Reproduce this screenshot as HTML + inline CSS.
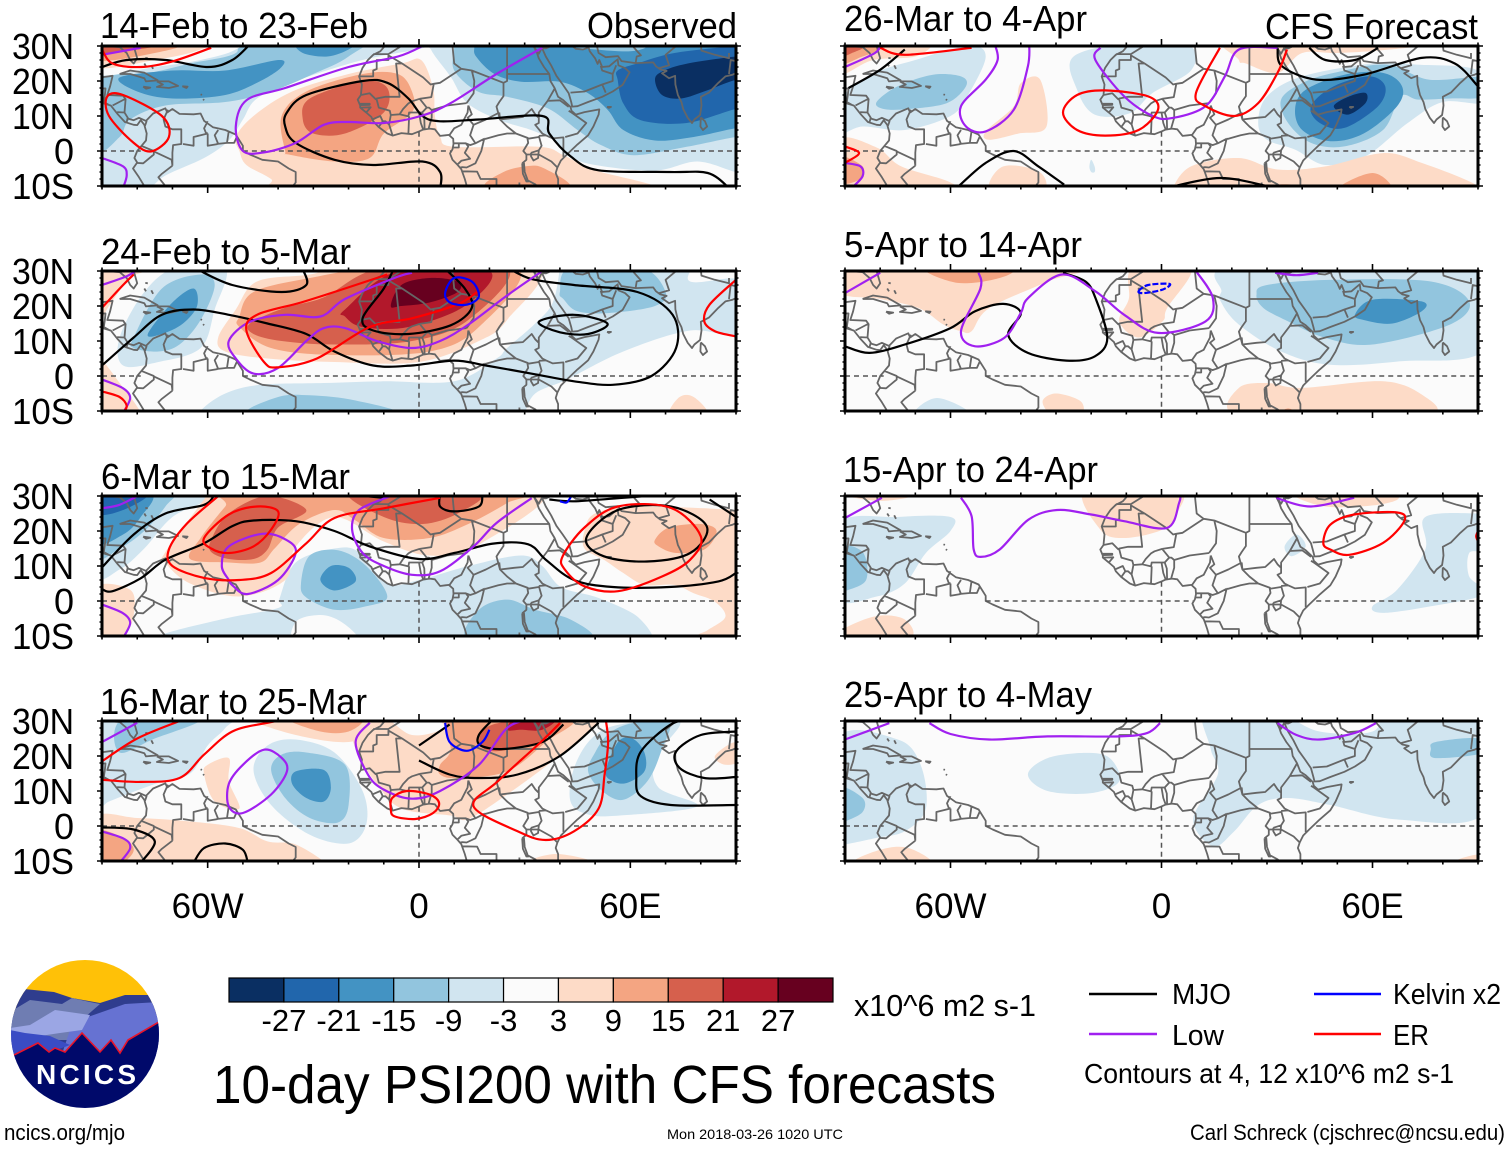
<!DOCTYPE html>
<html lang="en">
<head>
<meta charset="utf-8">
<title>10-day PSI200 with CFS forecasts</title>
<style>
html,body{margin:0;padding:0;background:#fff;}
svg{display:block;}
text{font-family:"Liberation Sans",sans-serif;fill:#000;}
</style>
</head>
<body>
<svg id="chart" xmlns="http://www.w3.org/2000/svg" width="1510" height="1149" viewBox="0 0 1510 1149">
  <rect width="1510" height="1149" fill="#fff"/>
  <g id="panels"></g>
  <g id="colorbar"></g>
  <text x="854" y="1016" font-size="31" textLength="182" lengthAdjust="spacingAndGlyphs">x10^6 m2 s-1</text>
  <text x="213" y="1103" font-size="54" textLength="783" lengthAdjust="spacingAndGlyphs">10-day PSI200 with CFS forecasts</text>

  <g>
    <line x1="1089" x2="1157" y1="994" y2="994" stroke="#000" stroke-width="2.4"/>
    <text x="1172" y="1004" font-size="29" textLength="59" lengthAdjust="spacingAndGlyphs">MJO</text>
    <line x1="1089" x2="1157" y1="1034" y2="1034" stroke="#a020f0" stroke-width="2.4"/>
    <text x="1172" y="1045" font-size="29" textLength="52" lengthAdjust="spacingAndGlyphs">Low</text>
    <line x1="1314" x2="1381" y1="994" y2="994" stroke="#0000ff" stroke-width="2.4"/>
    <text x="1393" y="1004" font-size="29" textLength="108" lengthAdjust="spacingAndGlyphs">Kelvin x2</text>
    <line x1="1314" x2="1381" y1="1034" y2="1034" stroke="#ff0000" stroke-width="2.4"/>
    <text x="1393" y="1045" font-size="29" textLength="36" lengthAdjust="spacingAndGlyphs">ER</text>
    <text x="1084" y="1083" font-size="28" textLength="370" lengthAdjust="spacingAndGlyphs">Contours at 4, 12 x10^6 m2 s-1</text>
  </g>

  <text x="4" y="1140" font-size="22" textLength="121" lengthAdjust="spacingAndGlyphs">ncics.org/mjo</text>
  <text x="667" y="1139" font-size="14" textLength="176" lengthAdjust="spacingAndGlyphs">Mon 2018-03-26 1020 UTC</text>
  <text x="1190" y="1140" font-size="22" textLength="315" lengthAdjust="spacingAndGlyphs">Carl Schreck (cjschrec@ncsu.edu)</text>

  <g>
    <clipPath id="logoClip"><circle cx="85" cy="1034" r="74"/></clipPath>
    <g clip-path="url(#logoClip)">
      <rect x="0" y="955" width="170" height="60" fill="#ffc107"/>
      <polygon points="10,1000 24,989 54,992 72,998 100,1003 125,995 149,995 165,1010 165,1060 10,1060" fill="#2f3d8e"/>
      <polygon points="10,1012 30,1000 62,1004 72,998 90,1002 100,1004 84,1018 84,1040 10,1040" fill="#6f7db2"/>
      <polygon points="85,1018 125,1004 160,1002 165,1060 60,1060 70,1030" fill="#6672d2"/>
      <polygon points="10,1028 30,1025 55,1010 90,1015 82,1030 60,1033 40,1036 10,1040" fill="#9ba6e4"/>
      <polygon points="10,1030 25,1033 50,1036 70,1045 40,1056 10,1060" fill="#3a4cc4"/>
      <polygon points="10,1056 14,1055 38,1043 49,1052 55,1048 65,1052 82,1033 100,1052 111,1040 120,1053 128,1040 159,1022 165,1018 165,1115 5,1115" fill="#00096a" stroke="#e8142a" stroke-width="1.6"/>
    </g>
    <text x="86" y="1084" font-size="28" font-weight="bold" text-anchor="middle" textLength="100" lengthAdjust="spacing" style="fill:#fff">NCICS</text>
  </g>
</svg>

<script>
/* ---------- axis ticks and labels ---------- */
const latTickLabels = [[30,'30N'],[20,'20N'],[10,'10N'],[0,'0'],[-10,'10S']];
const lonTickLabels = [[-60,'60W'],[0,'0'],[60,'60E']];
const periodTitles = ['14-Feb to 23-Feb','24-Feb to 5-Mar','6-Mar to 15-Mar','16-Mar to 25-Mar','26-Mar to 4-Apr','5-Apr to 14-Apr','15-Apr to 24-Apr','25-Apr to 4-May'];
const levels = [-27,-21,-15,-9,-3,3,9,15,21,27];
const levelColors = ['#0a2f62','#2166ac','#4393c3','#92c5de','#d1e5f0','#fbfbfb','#fddbc7','#f4a582','#d6604d','#b2182b','#67001f'];

/* ---------- filled PSI200 anomaly regions: [value, [[lon,lat],...]] painted in order ---------- */
const fills0 = [
 [-6,[[-92,-12],[-79,-12],[-72,-7],[-61,-2],[-54,3],[-50,9],[-46,15],[-35,20],[-16,26],[3,30],[3,34],[-92,34]]],
 [-12,[[-92,0],[-85,4],[-82,9],[-72,13],[-55,14],[-42,17],[-30,22],[-20,27],[-14,34],[-50,34],[-52,28],[-65,25],[-78,22],[-92,20]]],
 [-18,[[-85,21],[-70,23],[-55,23],[-40,26],[-39,24],[-45,20],[-55,16],[-70,15],[-80,17]]],
 [-18,[[-34,31],[-33,28],[-26,27],[-20,29],[-19,31]]],
 [0,[[-92,22],[-75,24],[-62,26],[-52,29],[-48,34],[-92,34]]],
 [6,[[-92,24],[-75,26],[-62,29],[-55,34],[-92,34]]],
 [12,[[-92,26],[-75,28],[-68,31],[-92,34]]],
 [18,[[-92,28],[-80,29],[-72,31],[-92,33]]],
 [24,[[-85,30],[-72,30],[-72,33],[-85,33]]],
 [-6,[[3.4,29],[3,34],[95,34],[95,-6],[90,-6],[79,-3],[67,-5.6],[50,-4],[42,-1.2],[38.4,3],[31.8,6],[23,8.8],[13.8,13.6],[9,21.2]]],
 [-12,[[10,34],[10,29.3],[10,23],[16.7,17],[25,15.5],[36.5,12.2],[45,6],[51.7,1.7],[61,-1.2],[76,1.2],[90,4],[95,4],[95,34]]],
 [-18,[[15.7,34],[15.7,30],[16.2,27],[21.4,22],[29,19.8],[40,19.8],[48,16.5],[53.6,11.7],[58,6],[67,3],[78,4],[90,6.5],[95,6.5],[95,34]]],
 [-12,[[37,31],[41,30],[50,29],[60,28.5],[65,30],[65,33],[37,33]]],
 [-24,[[56.4,20.3],[56.4,23],[62,25],[72.5,28],[90,30],[95,30],[95,12],[90,12],[76,8],[63,8.8],[58,13.6]]],
 [-30,[[67,20.3],[69,22.7],[76.3,25],[90,27],[95,27],[95,20],[90,20.3],[82,17.4],[74.4,15],[69,16]]],
 [6,[[-51,0],[-52,4],[-47,10],[-36,17],[-20,22],[-5,25],[0.6,26],[4,18],[4.5,10],[6,4],[10,1.2],[34,1.2],[41,-1.2],[50,-5.5],[67,-10],[70,-14],[-35,-14],[-42,-8],[-49,-4]]],
 [12,[[-38,0],[-39,10],[-32,17],[-16,22],[-6,22],[-2,17],[-2,11],[-10,5],[-14,-2],[-24,-3],[-37,-1]]],
 [18,[[-33,9],[-31,15],[-16,20],[-9,18],[-10,11],[-21,5],[-30,5]]],
 [12,[[18.6,-10.5],[24,-6],[31,-4.3],[35.6,-5],[43,-10.5],[30,-14]]]
];
const fills1 = [
 [-6,[[-85,11],[-78,24],[-69,31],[-55,31],[-58,19],[-62,8],[-74,4],[-84,3]]],
 [-12,[[-81,11],[-73,25],[-62,29],[-58,26],[-62,16],[-68,9],[-74,7],[-81,8]]],
 [-18,[[-77,12],[-70,21],[-64,25],[-63,20],[-67,15],[-73,12]]],
 [-6,[[-62,-14],[-62,-10],[-55,-5],[-45,-2.5],[-27,-2],[-10,-1.5],[10,-1.5],[22,5],[25,8],[33,15],[38,21],[40,31],[40,34],[75,34],[77,27],[92,27],[92,12],[77,13],[58,7],[42,-1],[33,-5],[30,-11],[30,-14]]],
 [-12,[[40,24],[43,31],[63,31],[70,24],[67,20],[54,18],[45,18.5],[41,22]]],
 [-12,[[-49,-11],[-40,-6],[-31,-5.5],[-18,-7],[-6,-11],[-30,-14]]],
 [6,[[-92,4.5],[-90,4.5],[-85,-2],[-79,-10.5],[-80,-14],[-92,-14]]],
 [6,[[-92,14],[-88,20],[-82,28],[-76,31],[-92,33]]],
 [6,[[71,-11],[74,-6],[78,-6],[82,-11],[76,-14]]],
 [6,[[-57,11],[-52,19],[-46,27],[-31,29],[-16,32],[33,32],[25,16],[17,10],[0,4],[-24,4],[-43,5],[-55,7]]],
 [12,[[-51,17],[-47,24],[-31,28],[-10,31],[28,31],[17,14],[3,7],[-24,6],[-42,8],[-51,14]]],
 [18,[[-48,15],[-38,19.5],[-27,22.5],[-10,31],[25,31],[14,16],[-2,10],[-24,9],[-39,10],[-47,12]]],
 [24,[[-21,19],[-6,30],[20,30],[13,20],[-3,14],[-16,14],[-21,17]]],
 [30,[[-8,20],[-5,26],[3,28],[11,27],[11,24],[3,21],[-5,20]]]
];
const fills2 = [
 [-6,[[-92,8],[-85,9],[-78,15],[-70,24],[-60,29],[-58,34],[-92,34]]],
 [-12,[[-92,13],[-85,15],[-78,20],[-72,27],[-68,34],[-92,34]]],
 [-18,[[-92,17],[-84,19],[-79,24],[-76,31],[-92,34]]],
 [-24,[[-92,25],[-84,26],[-77,31],[-92,33]]],
 [-6,[[-75,-14],[-74,-10],[-55,-5],[-40,-2],[-39.5,1],[-35,11],[-24,15],[-17,14],[-9,5],[0,6],[14,10],[29,13],[35,10],[40.3,4],[50,1.2],[59,-2.6],[63,-5.4],[66.3,-10],[66,-14]]],
 [0,[[-35,-13],[-35,-6],[-28,-4],[-22,-6],[-17,-11],[-20,-14]]],
 [-12,[[-33.5,5],[-31,13],[-23,14.5],[-15,10],[-9,1.3],[-15,-1.5],[-24,-2.5],[-32,1]]],
 [-18,[[-28,6],[-25,10],[-20,9.5],[-18,5.6],[-24,3]]],
 [-12,[[13.5,-11],[17,-2.5],[25,0.4],[33,-2.5],[43,-5.3],[49,-11],[30,-14]]],
 [6,[[-92,3.7],[-82,3.2],[-81,-4],[-84,-10],[-92,-11]]],
 [6,[[-72,14],[-61,29],[-57,34],[33,34],[17,16],[3,13],[-10,17],[-24,24],[-35,15.5],[-38,6],[-51,1.3],[-65,5],[-72,11]]],
 [6,[[47,20],[50,25],[62,27],[92,26],[95,26],[95,-14],[79,-14],[79,-10],[82,-8.3],[87,-4.5],[84,-0.2],[78,2.2],[72.5,4.6],[64,4.6],[58,8],[52.6,11.7],[47,15]]],
 [12,[[-65,12],[-62,18],[-55,27],[-50,32],[30,32],[25,28],[14,22],[3,18],[-10,18],[-18,23],[-24,26],[-34,22],[-41,15],[-45,11],[-54,11]]],
 [18,[[-59,17.5],[-54,25],[-43,30],[-32,26],[-40,21],[-43,14.7],[-47,12],[-54,12],[-59,14]]],
 [18,[[-20,31],[-10,24],[1,22],[11,25],[18,31],[0,34]]],
 [12,[[67,17.5],[71,21],[80,22],[84.5,20],[81,14.7],[73,13.7],[68,15.6]]]
];
const fills3 = [
 [-6,[[-92,5],[-88,7],[-75,12],[-65,15],[-60,23],[-55,28],[-52,34],[-92,34]]],
 [-12,[[-85,21],[-85,30],[-70,34],[-60,34],[-62,30],[-75,25]]],
 [-6,[[-47,16],[-43,23],[-35,24.7],[-24,21],[-16,10],[-15,0.4],[-20,-5],[-31,-2.5],[-42,6]]],
 [-12,[[-42,16],[-39,20.4],[-32,21],[-21,17.5],[-20,6],[-23,1],[-31,2.3],[-38,8]]],
 [-18,[[-36,12],[-35,15.6],[-27,16],[-25,11],[-27,7],[-32,8]]],
 [-6,[[43,7],[44,16.5],[49,25],[57,29],[74,30],[67,19.5],[68,11],[79,5.6],[57,3],[48,3.3]]],
 [-12,[[48,15.6],[50,21],[54,26.5],[60.6,29.4],[71,30],[69,22],[65,13],[58,7.5],[52,10]]],
 [-18,[[53,15.6],[56.5,24],[60.6,25],[64,21],[64,15.6],[59,12.3],[55,12.8]]],
 [6,[[-92,2.3],[-80,2.3],[-65,1.3],[-51,-0.6],[-43,-4.4],[-35,-5.3],[-26,-11],[-26,-14],[-92,-14]]],
 [12,[[-92,-1.5],[-84,-3.4],[-81,-7],[-85,-11],[-92,-12]]],
 [6,[[-60,17.5],[-54,19.4],[-54,12.8],[-51,5],[-58,7],[-61,14.7]]],
 [6,[[-19,31],[-18,22],[-12,12],[-5,5],[9,3],[14,2],[25,9],[39,19.4],[50,29],[50,33],[8,33],[7,28],[-2,26],[-10,31]]],
 [6,[[-50,31],[-35,26],[-20,24],[-13,28],[-13,33],[-50,33]]],
 [12,[[-38,31],[-28,27],[-20,27],[-16,31],[-28,33]]],
 [6,[[30,-11],[39,-8],[51,-11],[40,-14]]],
 [6,[[84,20],[90,24],[92,19],[87,17.5]]],
 [12,[[6,17.5],[9,21.5],[10,31],[43,31],[36,24],[25,15.6],[11,13.7],[6,14.7]]],
 [18,[[17,24],[21,29],[40,31],[36,25],[26,22],[20,21.5]]],
 [24,[[25,27.5],[28,31],[39,31],[35,27.5],[29,27.5]]]
];
const fills4 = [
 [-6,[[-92,5],[-92,14],[-82,22],[-70,26],[-55,30],[-50,27],[-55,16],[-60,10],[-73,6],[-85,7]]],
 [-12,[[-81,14],[-75,18.5],[-65,21.8],[-57,21.3],[-55.6,18.5],[-61,13.7],[-72,12],[-79,12]]],
 [-6,[[-25,27],[-8,31],[8,30],[8.4,23],[-2.5,16.6],[-9,10.8],[-19,10.4],[-24,17.5]]],
 [-6,[[-20,-2.5],[-19,-4.5],[-19,-6],[-20,-6],[-20.5,-4.5]]],
 [-6,[[27.5,8],[30,15.6],[40,21.3],[60,25],[72.5,24.7],[90,23],[92,14],[80,14],[70,8],[58,-1.5],[46.6,-4],[38,0.4],[30,3.2]]],
 [-12,[[34,14.7],[40,19.4],[49,22.3],[64,24.7],[76,20.4],[92,21],[92,15.6],[82,15],[73,14.7],[68,15.6],[63,6],[52,1.3],[42.5,2.3],[36,8]]],
 [-18,[[38,12],[41,17.5],[52,21.8],[63,22.3],[68.4,18.5],[67,12.8],[57.5,5],[48,2.8],[40,6]]],
 [-24,[[42.5,12.8],[49,18.5],[59,21.3],[63.6,18.5],[61.6,12.8],[52,6.6],[45,8]]],
 [-30,[[49,12.8],[53.4,15.6],[58,16.6],[58,13.7],[53,10.4]]],
 [6,[[-92,22],[-82,26],[-70,27],[-65,31],[-70,34],[-92,34]]],
 [12,[[-92,25],[-85,27],[-80,29],[-78,31],[-92,34]]],
 [18,[[-92,27],[-88,28],[-84,30.5],[-92,33]]],
 [6,[[-50,5.6],[-42,12.8],[-40,19.4],[-34.5,20.4],[-32.7,7],[-40.6,5],[-49,3.2]]],
 [6,[[21,34],[22,26],[24,25],[33,22.3],[40,28],[50,28],[65,29],[90,32],[90,34]]],
 [6,[[3,-11],[8.4,-4.4],[22,-2],[33,-5.3],[46.6,-4.4],[63,-0.6],[74,-3.4],[90,-10],[90,-14],[3,-14]]],
 [12,[[50,-11],[60,-6.3],[65.6,-11],[58,-14]]],
 [12,[[21,-11],[35,-9.5],[42,-11],[30,-13]]],
 [6,[[-92,3],[-81,1],[-74,-4.4],[-60,-9],[-55,-14],[-92,-14]]],
 [6,[[-49,-11],[-45,-4.4],[-35,-5.8],[-33,-11],[-40,-14]]],
 [12,[[-92,-1.5],[-85,-4.4],[-86,-8.2],[-92,-9]]]
];
const fills5 = [
 [6,[[-92,24],[-80,22],[-69,19.4],[-62,14.7],[-57,12.8],[-54,12.8],[-49,19.4],[-32.4,27],[-22,32],[-92,34]]],
 [12,[[-68,31],[-58,26.6],[-46,28],[-42,31],[-55,33]]],
 [6,[[-12,15.6],[-9.3,22],[-8,31],[8.4,31],[1.6,19.4],[0.3,15.6],[-6.5,11]]],
 [6,[[-33.8,-7.2],[-30,-5],[-23,-7.2],[-23,-11],[-31,-11]]],
 [6,[[20.7,-11],[22,-3.4],[30,-2],[40,-3.4],[63,-1.5],[74,-5.3],[77,-11],[50,-14]]],
 [12,[[33,-11],[36,-9.3],[39,-11],[36,-12]]],
 [-6,[[-70.6,-11],[-63.8,-6.3],[-54,-11],[-63,-13]]],
 [-6,[[17,24],[22,32],[92,32],[92,7.6],[68,4.2],[48,3.2],[34,7],[22,14.7],[17,21]]],
 [-12,[[27,23.2],[30,26],[49,27.5],[76.6,27],[87.5,21.3],[82,14.7],[60,9],[46.6,10.9],[36,15.6],[29,19.4]]],
 [-18,[[55,17.5],[60,21.8],[74,21.3],[74,18.5],[65.7,15],[57.5,16]]]
];
const fills6 = [
 [-6,[[-92,1],[-92,22],[-75,24],[-60,24],[-60,20],[-67,13.7],[-73,5],[-81,1.3]]],
 [-12,[[-92,15],[-85,14],[-84,6],[-90,2.8],[-92,2]]],
 [6,[[-92,-9],[-81.5,-4.4],[-73,-5.3],[-72,-11],[-92,-13]]],
 [6,[[-92,31],[-72,30],[-80,28.6],[-90,30]]],
 [6,[[-21.5,32],[-17.4,20.4],[-10.6,18],[0.3,20.4],[4.4,25],[4.4,32]]],
 [6,[[37,31],[46.6,27],[61.6,27.5],[67,30],[50,33]]],
 [-6,[[35,15.6],[38.4,19],[41,15.6],[37,12.8]]],
 [-6,[[60,-1.5],[67,3.2],[75,14.7],[75,24],[90,25],[92,24],[92,15],[87.5,13.7],[87.5,7],[92,2],[76.6,-1.5],[63,-3.4]]]
];
const fills7 = [
 [-6,[[-92,-5.3],[-92,25],[-75,24.7],[-68.5,17.5],[-67,5],[-73,-1.5],[-81,-3.4],[-90,-5.3]]],
 [-12,[[-92,11],[-85,8],[-85,4],[-90,1.3],[-92,1]]],
 [-6,[[-38,14.7],[-32.4,19.4],[-21.5,20.9],[-14.7,19.4],[-12,12.8],[-20,9.4],[-32.4,10]]],
 [-6,[[12.5,34],[14,22],[16,14.7],[9,2],[14.7,-5.8],[20.7,-1.5],[27.5,6],[35.7,8],[48,6],[68,1.8],[92,4],[92,34],[66,34],[60,27],[45,27],[33,32]]],
 [-12,[[76.6,22],[78,24],[90,25],[92,21],[78,19.4]]],
 [6,[[-88,-11],[-80,-6.8],[-72,-6.3],[-65,-11],[-75,-14]]],
 [6,[[82,-11],[91,-8.2],[92,-14]]]
];
const panelFills = [fills0,fills1,fills2,fills3,fills4,fills5,fills6,fills7];

/* ---------- contour lines per panel; a line ending on its first point is closed ---------- */
const mjoLines = [
 [[[-90,24],[-83,26],[-72,26],[-60,24],[-53,26],[-48,30.5]],
  [[6,-11],[6,-6],[1,-3],[-13,-4],[-24,-2.5],[-35,2.3],[-38,7],[-37.5,11],[-32,16],[-16,20],[-9,19.5],[-3,15],[1,10],[6,8.5],[17,9],[35,10],[37,5],[43,-1.5],[51,-5.5],[71,-6],[82,-6.3],[88,-10.5]]],
 [[[-63,30.5],[-53,26],[-39,24],[-32,26],[-33,30.5]],
  [[-90,3],[-81,11],[-73,17.5],[-64,19],[-54,17.5],[-43,15],[-32,12],[-24,7],[-13,3],[-2,3],[10,4.4],[19,3],[33,0.5],[44,-1.5],[55,-2.5],[66,0],[73,8],[72,17.5],[62,24],[44,26],[32,27.7],[25,31]],
  [[-7,31],[-10,25],[-16,16.5],[-13,13],[-3,12],[9,14.5],[15,19.5],[13,25],[7,31]],
  [[34,15.5],[44,17.5],[53.5,15],[48,12],[40,12.5],[34,15.5]]],
 [[[-90,9.6],[-81,19],[-72,25],[-61,27.5],[-58,30.5]],
  [[-90,3.4],[-87,2.8],[-79,6.5],[-72,11.8],[-61,16.5],[-53,21.4],[-47,23],[-35,22.8],[-24,20],[-14,15.6],[0,12],[10,13.7],[21,16.4],[31,16.2],[36,11.8],[44,6],[55,4],[71,4],[85,5.6],[90,8]],
  [[6,30.5],[6,27],[10,25.6],[17,27],[18,30.5]],
  [[47.5,18],[56.5,26],[71.5,27],[81.7,21.3],[77,13.7],[64.7,11.3],[52.4,12.8],[47.5,18]],
  [[37,29],[44,28.5],[58,29.5],[72,30.5]],
  [[82.5,29],[90,24]],
  [[-21,30.5],[-10,29.5]]],
 [[[0,23],[8.7,29]],
  [[0,18.7],[8.7,14.7],[17,13.7],[28,14.7],[40,20],[51,29.5]],
  [[21,30.5],[17,26],[17.5,23],[24,22],[35,24],[41,29]],
  [[90,6],[71.5,6],[63,8.5],[61.7,13.7],[63,21.3],[71.5,29],[78,30.5]],
  [[90,14],[81,13.7],[74,16.6],[73,21.3],[80,26],[90,27]],
  [[-90,-0.4],[-81,-1],[-75,-4.4],[-79,-10.5]],
  [[-64,-10.5],[-61,-6.3],[-55,-5],[-50,-6.8],[-48.6,-10.5]]],
 [[[-89,18],[-80,23.2],[-73,29]],
  [[-57.6,-10],[-50,-3.4],[-42,0],[-35,-4.4],[-27.7,-9.6]],
  [[1.6,-10.5],[16.6,-7.7],[30,-10]],
  [[33,29.4],[34.3,24.2],[44,20.4],[57.5,21.8],[74,26.6],[83.4,25],[90,18.5]],
  [[42,29.5],[46.6,26],[55,26],[61.6,29.5]]],
 [[[-90,8.5],[-83,6.6],[-73,9],[-60,13.7],[-53,18.5],[-45,20.6],[-40,18],[-43.6,11.8],[-38,6.6],[-27,4.4],[-19,5.6],[-15.4,10.9],[-18.8,22.3],[-21.6,27],[-28,29.5]]],
 [],
 []
];
const lowLines = [
 [[[-90,27.5],[-79,29.5]],
  [[1,30],[-6,27],[-20,24],[-38,18],[-49,14.5],[-52,7],[-50,0],[-44,-0.4],[-35,2.3],[-27,7.5],[-20,8.3],[-10,8],[0.5,10],[9,13.7],[22,22],[35,29.5]],
  [[-90,-2],[-84,-4.4],[-83,-7],[-84,-10.5]]],
 [[[-90,26],[-83,28.5],[-79,31]],
  [[35,30],[25,23],[14,14.7],[6,10],[-2,8],[-12,10],[-21,13.7],[-27,13.7],[-32,10],[-40,2.3],[-47,0.7],[-52,5],[-54,10],[-48,15.5],[-38,17.5],[-28,17],[-21,22],[-7,28],[-2,29.5]],
  [[-90,-1],[-84,-3.5],[-82,-6.3],[-84,-10.5]]],
 [[[-90,26.5],[-85,27.5],[-79,30.5]],
  [[-8,30],[-17,26],[-19,20.4],[-16,13.7],[-10,10],[-2,7.5],[6,8.5],[15.5,15.6],[22,22.3],[32,29.4]],
  [[-54,6],[-56,10],[-54,15.6],[-44.5,19.2],[-37.7,17.5],[-35,13.7],[-40,6],[-48.6,2],[-52.7,4.2],[-54,6]],
  [[-90,-1],[-84,-3.5],[-82,-6.3],[-84,-10.5]]],
 [[[-90,24],[-80,29.5]],
  [[-92,-1],[-84,-3.5],[-82,-6.3],[-85,-10.5]],
  [[-54,12],[-50,17.5],[-44,21.8],[-39,19.5],[-37.5,15.6],[-42,9],[-50,3.7],[-54,5.6],[-54,12]],
  [[-14,29.5],[-18,24],[-14.5,14.7],[-10,10.4],[-2,7.8],[6,10],[17,17.5],[25,28],[32,30.5]]],
 [[[-90,24],[-81.5,28],[-80,30.5]],
  [[-47.4,30.5],[-46.6,26],[-50,20.4],[-57,12.8],[-55.6,7],[-50,5.6],[-42,11.8],[-38,24.2],[-37.6,30.5]],
  [[-17.4,29.5],[-18.8,26],[-10.6,15.6],[-2.5,10],[3,9.4],[12.5,12.8],[18,21.3],[22,29],[33,29.5]],
  [[-90,-3.4],[-85.6,-4.4],[-85,-7.2],[-88,-10.5]]],
 [[[-90,23.7],[-80,29.5]],
  [[-52,29.5],[-51.5,25],[-57,12.8],[-53,8.5],[-44.7,10.9],[-40,18],[-37.9,22.3],[-28.3,29],[-18.8,24.2],[-10.6,17.5],[-1,12.3],[12.5,15.6],[14.6,22.3],[9.8,30]],
  [[32.3,29.5],[38.4,28.8],[44.5,29.5]]],
 [[[-90,23.7],[-79.5,29.5]],
  [[-57,29.5],[-54,24.2],[-53.4,14.7],[-51.4,12.6],[-46,14.7],[-37.9,23.2],[-29.7,26],[-20,24.7],[-10.6,22.8],[1.6,20.9],[5,28],[5.4,30.5]],
  [[32.7,29.4],[42.5,27],[54.8,29.5]]],
 [[[-90,24.7],[-77.4,29.4]],
  [[-66,29.4],[-60,26.3],[-49,24.7],[-32.4,25.6],[-12,25.6],[-4,26.6],[-0.4,29.4]],
  [[33,29.4],[38.4,26],[45,24.7],[55,26.6],[61,29.4]]]
];
const erLines = [
 [[[-90,29],[-87,25],[-79,24],[-70,25.6],[-59,29.5]],
  [[-88.5,15.6],[-84,16],[-73,10],[-71,4],[-76,-0.1],[-81,2.3],[-88,10],[-88.5,15.6]]],
 [[[-90,19.5],[-84,26],[-81,29]],
  [[-9,29],[-21,25],[-33.5,21],[-46,17.5],[-49,13],[-44,4],[-40,2.5],[-29,5],[-14,14],[-2,16.5],[11,20.5],[16.5,24]],
  [[-90,-4.4],[-85,-6],[-83,-8.5],[-84,-10.5]],
  [[90,27.5],[82.5,20.4],[81,15.6],[84,12.8],[90,11.3]]],
 [[[-61,18],[-54,24.7],[-46,27],[-40,25.6],[-42,20.4],[-47,15.6],[-54,13.7],[-59,15],[-61,18]],
  [[-57,30],[-66,22],[-71,14.7],[-70,10],[-61,6.6],[-51,6],[-42,8],[-32,16.5],[-24,23.7],[-10,26.5],[6,29.5]],
  [[40.8,12.8],[47,21],[56.5,27],[71.5,26.6],[80,18.5],[77,11.8],[69,7],[56.5,2.8],[47,4.2],[41.4,9],[40.8,12.8]]],
 [[[-90,13.2],[-79,12.6],[-68,13.7],[-61,20.4],[-53,27],[-43,29.5],[-37,30.5]],
  [[-90,18.5],[-80,25],[-68,30]],
  [[-7.6,8],[-3.5,10],[3,9],[5.7,6.6],[4,3.7],[-1,2],[-7,2.8],[-8,5],[-7.6,8]],
  [[53,30.5],[53.7,24],[52.7,14.7],[51,5],[44,-1.5],[36,-4],[28,-1.5],[15.5,5.6],[22.4,12.8],[34.6,24],[40,29.4]]],
 [[[-80,29.5],[-73,27.5],[-54,29.5]],
  [[-28,11],[-24,16],[-16,17.3],[-3.8,15.6],[-1,11.8],[-6.5,6],[-16,4.4],[-24,6],[-28,11]],
  [[16.6,29.5],[9.8,16.6],[12.5,12.8],[20.7,10],[27.5,13.7],[33,22.3],[35.7,29]],
  [[-90,1.3],[-86,-0.6],[-90,-3.4]]],
 [],
 [[[46,16.6],[48,21.8],[54.8,24.7],[67,25.3],[69,22.8],[63,16.6],[53.4,13.2],[48,14.7],[46,16.6]],
  [[90,20],[89.5,18.5],[90,17]]],
 []
];
const kelvinLines = [
 [],
 [[[7.4,23.7],[10,28],[15,27],[17,22.8],[13.7,20.4],[9,20.9],[7.4,23.7]]],
 [[[40,28.5],[42,28.2],[43.5,30.5]]],
 [[[7.4,29.5],[8.7,24],[13.5,21.5],[18,24],[20,27.5]]],
 [],
 [[[-6.5,24.2],[-3.8,26],[2.3,26.3],[0.3,24.7],[-5,23.7],[-6.5,24.2]]],
 [],
 []
];

/* ---------- coastlines and borders, in lon/lat ---------- */
const coastLines = [
 [[-97,26],[-97,22],[-94,18.2],[-91,18.7],[-90.5,21],[-87,21.5],[-87.7,18.5],[-88.5,16],[-84,15.8],[-83.3,14.8],[-83.6,11],[-82.5,9.2],[-81,8.8],[-79.5,9.5],[-77.5,8.6],[-75.5,10.7],[-72,12.2],[-71.5,11],[-70,12],[-68,10.6],[-64,10.5],[-62,10.7],[-61,8.6],[-58.5,6.8],[-55,6],[-52,4.7],[-50,1.5],[-50,0],[-48,-1],[-44.5,-2.5],[-40,-3],[-37,-5],[-35,-6],[-35,-9],[-37,-11.5]],
 [[-94,16],[-91,14],[-87.5,13],[-85.5,10.5],[-83.5,8.3],[-81,7.5],[-80,7.4],[-79,8.8],[-78,7.5],[-77.3,5],[-77.5,3],[-79,1.2],[-80,0],[-80.8,-2],[-80,-3.3],[-81.2,-5],[-79.5,-7.5],[-78,-10],[-77,-12]],
 [[-92,30],[-89,30],[-85,29.7],[-83,28],[-82,26],[-81,25],[-80,26.5],[-81,30],[-81,32]],
 [[-85,22],[-82,23],[-78,22.4],[-74.2,20.2],[-77.5,19.9],[-78,20.8],[-82,22],[-85,22]],
 [[-74.4,19.9],[-71,19.9],[-68.4,18.6],[-71,18],[-74.4,18.3],[-72.7,19],[-74.4,19.9]],
 [[-78.3,18.4],[-76.3,18.1],[-77.5,17.8],[-78.3,18.4]],
 [[-67.2,18.5],[-65.7,18.4],[-66,18],[-67.2,18.5]],
 [[-78,25],[-77.5,24.2]],[[-76,24.5],[-75.5,23.5]],[[-77.7,26.6],[-77,26.5]],
 [[-62,16.2],[-61.6,16]],[[-61.3,14.8],[-61,14.5]],
 [[-9.7,31],[-9.7,30],[-11,28.5],[-13,27.5],[-14.5,26],[-16,23.8],[-17,21.3],[-16.2,19],[-16.5,16],[-17.4,14.7],[-16.7,13],[-16.7,12.4],[-15,11],[-13.5,9.7],[-13,8.5],[-11.5,6.9],[-9,5],[-7.5,4.4],[-5,5.1],[-2,4.8],[0,5.6],[1.2,6.1],[3,6.4],[4.5,6.2],[6,4.3],[7.5,4.5],[8.5,4.6],[9.7,3.5],[9.8,2],[9.5,0.5],[8.8,-0.7],[9.5,-2.5],[11,-4],[12,-5.2],[12.3,-6],[13,-8],[13.7,-10.5],[13.8,-12]],
 [[32.5,30],[33.5,28],[34,26.5],[35.5,24],[37,22],[37.3,20],[38.5,18],[39.5,15.5],[41,14.5],[43,12.6],[43.3,11.5],[44.5,10.4],[47,11.1],[51.2,11.9],[51,10.4],[49.5,7],[48,4.5],[45,1.9],[42,-1],[40.3,-2.7],[39.3,-4.7],[38.8,-6.3],[39.5,-8],[39.5,-10],[40.5,-11]],
 [[18,30.7],[19.3,30.3],[20,31]],
 [[32.5,30],[34,27.8],[34.9,29.5]],
 [[34.9,29.5],[36,27],[37.5,24.5],[39,21.5],[40.8,19],[42.5,16.5],[43.2,14],[43.5,12.7],[45,12.8],[48,14],[52,15.5],[55,17],[57.8,18.9],[59.8,22.5],[58.5,23.7],[56.6,24.5],[56.4,26.2],[55.5,25.5],[54,24.2],[52,24],[51.6,25],[51.2,26],[50.7,24.9],[50,26.5],[48.5,28.5],[48,30],[49,30.3],[50.5,30],[51,28],[53,26.8],[56.5,27.1],[57.5,25.7],[61.5,25.1],[66.5,25.3],[67.3,24.2],[68.5,23.3],[70.3,22.9],[69,22.2],[71,20.8],[72.7,21.5],[72.8,19],[73.5,16],[74.5,14],[75,12],[76.3,9.5],[77.5,8],[78.2,9],[79.8,10.3],[80.2,13],[80,15.5],[82.3,16.7],[85,19.5],[87,21.3],[89,21.8],[90.5,22.5],[91.5,22.5],[92.3,20.7]],
 [[80,9.6],[81.2,8.5],[81.8,7],[80.6,6],[79.9,7],[80,9.6]],
 [[53.4,12.6],[54.5,12.6],[53.9,12.3],[53.4,12.6]],
 [[31.8,-0.5],[34,0.2],[33.8,-2],[32.5,-2.7],[31.8,-1.5],[31.8,-0.5]],
 [[29.3,-3.5],[29.8,-3.5],[30,-6],[31,-8.7],[30.5,-8.7],[29.5,-6.5],[29.3,-3.5]]
];
const borderLines = [
 [[-13,27.7],[-8.7,27.7],[-5,30],[-1,32]],
 [[-17,21.3],[-13,21.3],[-13,23],[-12,23.4],[-12,26],[-8.7,26],[-8.7,27.3],[-4.8,25],[-6.5,25],[-5.5,15.5],[-9.5,15.5],[-12,15],[-12.3,14.8],[-14,16.5],[-16.5,16]],
 [[-4.8,25],[1.2,21],[3.3,19],[4.2,19.2]],
 [[4.2,19.2],[6,19.5],[12,23.5]],
 [[12,23.5],[10,25],[9.5,30],[9,32]],
 [[4.2,19.2],[3.5,15.4],[0.2,14.9]],
 [[0.2,14.9],[-2,14.2],[-3,13.6],[-4.5,12],[-5.5,10.5]],
 [[-5.5,10.5],[-8,10.3],[-8.3,11.5],[-11.4,12.4],[-12,14.7]],
 [[12,23.5],[15,23],[15.7,20],[15.5,16.5],[13.5,13.7]],
 [[13.5,13.7],[8,13],[3.6,11.7],[2.8,12.4],[2.2,12.4],[0.2,14.9]],
 [[15,23],[24,19.5],[24,15.7],[22.8,14],[22,12.7],[23,9]],
 [[25,31],[25,20],[24,19.5]],
 [[25,22],[36.8,22]],
 [[23,9],[27,9.5],[29.5,9.7],[32,12],[33,10.5],[34,9.5]],
 [[38.6,18],[36.5,14.3],[34,11],[34,8],[33,7.5],[35,5]],
 [[36.5,14.3],[40,14.5],[42.5,12.6]],
 [[42.5,11.5],[43.3,11],[47.5,8],[45,5],[41.5,4]],
 [[41,-1.7],[41,3.9],[38,3.6],[36,4.5],[34,4.3]],
 [[35,5],[36,4.5]],
 [[34,4.3],[34.8,1.5],[34,0.2]],
 [[34,-1],[37.6,-3],[39.3,-4.7]],
 [[34,-1],[30.5,-1]],
 [[30.5,-1],[29.6,0],[31,2.3],[30.8,3.5],[34,4]],
 [[31,3.7],[27.5,5],[25,5],[22.5,4.5],[19,3.5],[18.5,3.5]],
 [[27.5,5],[25,7],[23,9],[22.8,11]],
 [[22.8,11],[19,9],[15.5,7.5]],
 [[15.5,7.5],[14.5,4.5],[16,2.2],[18.5,3.5]],
 [[18.5,3.5],[17.7,0],[16,-3.5],[13.5,-4.7],[12.3,-4.6],[11.5,-4.8]],
 [[14,13],[15,10.5],[13.8,9.5],[15.5,7.5]],
 [[14,13],[13.8,11],[12,7.5],[10,6.5],[8.7,4.6]],
 [[9.8,2.2],[13.3,2.2],[14.5,1.7],[16,2.2]],
 [[13.3,2.2],[14,1.3],[13,-0.5],[14.5,-2.2],[12,-2.8],[11,-3.8]],
 [[9.8,1],[11.3,1],[11.3,2.2]],
 [[12.3,-5.8],[16.5,-5.9],[17.5,-8],[22,-8],[22,-11],[24,-11]],
 [[28.5,-9],[28.5,-12]],
 [[30.7,-8.3],[33,-9.5],[34.5,-11]],
 [[34.7,-11.5],[40.4,-10.5]],
 [[30.5,-1],[30.5,-2.5],[29.3,-3.5]],
 [[2.7,6.3],[3.6,9.5],[3.6,11.7]],
 [[1.6,6.2],[1.5,9.3],[0.9,11],[2.2,12.4]],
 [[1.2,6.1],[0.5,8],[0,11]],
 [[-5.5,10.5],[-3,9.9],[-2.8,11],[0,11],[0.9,11]],
 [[-3,5],[-2.8,9.9]],
 [[-7.5,4.4],[-8.5,7.6],[-8,10.3]],
 [[-11.4,6.9],[-10.3,8.5],[-9.5,8.5],[-8.5,7.6]],
 [[-13,9.1],[-11,10],[-10.3,8.5]],
 [[-16.7,12.4],[-13.7,12.5],[-15,11]],
 [[-16.7,13.5],[-14,13.5],[-14,13.2],[-16.7,13.1]],
 [[48,29.5],[46.5,29],[44.5,29.2],[42,31.2]],
 [[35,29.4],[36,29.3],[37.5,30],[38,31]],
 [[43,16.7],[47,17],[52,19],[55,20],[55,22],[52,23],[51.6,24.3]],
 [[52,19],[53,16.7]],
 [[55,22],[56,24.5]],
 [[61.5,25.1],[61.8,27],[63,27.3],[60.8,29.8],[61.5,31.5]],
 [[68.2,23.7],[71,24.5],[70,27.5],[73,30],[75,32]],
 [[80,30.2],[80.2,28.7],[84,27.5],[88,26.5],[88,28]],
 [[88,22],[88.5,26],[92,25.2],[92.3,21]],
 [[-71.3,11.8],[-72.5,9],[-72,7],[-70,6.2],[-67.5,6.2],[-67.5,2],[-69.8,1.7],[-70,-0.5],[-70,-4.2]],
 [[-78.7,1.4],[-75.3,0],[-75.3,-1],[-78.3,-3.5],[-80.3,-3.4]],
 [[-75.3,-0.1],[-70.2,-2.5],[-70,-4.2]],
 [[-70,-4.2],[-73,-6.5],[-74,-7.5],[-72,-10],[-70.5,-11]],
 [[-77.3,8.6],[-77.8,7.2]],
 [[-60,8.5],[-61,6.5],[-60.5,5.2],[-60,5]],
 [[-60,5],[-64,4],[-64,1.5],[-67,2]],
 [[-60,5],[-60,1.5],[-57,2],[-58,4.5],[-57,6]],
 [[-57.5,2],[-54.5,2.3],[-54,5.8]],
 [[-54.5,2.3],[-52.5,2.3],[-51.7,4.1]],
 [[-92,14.7],[-90.5,16],[-91,17.8],[-89,17.9],[-89.2,15.9]],
 [[-89.2,15.9],[-89.5,14],[-87.7,13]],
 [[-83.2,15],[-87,13]],
 [[-85.7,11.1],[-83.7,11]],
 [[-83,8.3],[-82.7,9.5]]
];
const equatorDashSpans = [[-90,-79],[-50,9],[44,90]];
const primeMeridianSpan = [-10,5.5];

const NS = 'http://www.w3.org/2000/svg';
const colLeft = [102,845];
const colWidth = [634,633];
const rowTop = [46,271,496,721];
const titleBaseline = [[38,264,489,714],[31,257,482,707]];
const titleLength = [[268,250,249,267],[243,238,255,248]];
const titleStart = [[100,101,101,100],[844,844,843,844]];

function colorFor(v){
  let i = 0;
  while(i < levels.length && v >= levels[i]) i++;
  return levelColors[i];
}
function make(tag, parent){
  const e = document.createElementNS(NS, tag);
  parent.appendChild(e);
  return e;
}
function smooth(pts, xf, yf, closed){
  const P = pts.map(p => [xf(p[0]), yf(p[1])]);
  const n = P.length;
  const g = i => closed ? P[(i + n) % n] : P[Math.max(0, Math.min(n - 1, i))];
  let d = 'M' + P[0][0].toFixed(1) + ' ' + P[0][1].toFixed(1);
  const end = closed ? n : n - 1;
  for(let i = 0; i < end; i++){
    const p0 = g(i-1), p1 = g(i), p2 = g(i+1), p3 = g(i+2);
    const c1x = p1[0] + (p2[0]-p0[0])/6, c1y = p1[1] + (p2[1]-p0[1])/6;
    const c2x = p2[0] - (p3[0]-p1[0])/6, c2y = p2[1] - (p3[1]-p1[1])/6;
    d += 'C' + c1x.toFixed(1) + ' ' + c1y.toFixed(1) + ' ' + c2x.toFixed(1) + ' ' + c2y.toFixed(1) + ' ' + p2[0].toFixed(1) + ' ' + p2[1].toFixed(1);
  }
  return d + (closed ? 'Z' : '');
}
function poly(pts, xf, yf){
  return pts.map((p,i) => (i ? 'L' : 'M') + xf(p[0]).toFixed(1) + ' ' + yf(p[1]).toFixed(1)).join('');
}
function isClosed(l){
  const a = l[0], b = l[l.length-1];
  return a[0] === b[0] && a[1] === b[1];
}

const panelsRoot = document.getElementById('panels');
const defs = make('defs', panelsRoot);

function drawContours(group, sets, color, seriesName, xf, yf, dash){
  sets.forEach(line => {
    const closed = isClosed(line);
    const pts = closed ? line.slice(0, -1) : line;
    const p = make('path', group);
    
    
    p.setAttribute('d', smooth(pts, xf, yf, closed));
    p.setAttribute('fill', 'none');
    p.setAttribute('stroke', color);
    p.setAttribute('stroke-width', '2.2');
    if(dash) p.setAttribute('stroke-dasharray', dash);
  });
}

function drawPanel(idx){
  const col = idx < 4 ? 0 : 1;
  const row = idx % 4;
  const left = colLeft[col], width = colWidth[col], top = rowTop[row];
  const xf = lon => left + (lon + 90) * width / 180;
  const yf = lat => top + (30 - lat) * 3.5;

  const g = make('g', panelsRoot);
  
  

  const clip = make('clipPath', defs);
  clip.id = 'clip' + idx;
  const cr = make('rect', clip);
  cr.setAttribute('x', xf(-90)); cr.setAttribute('y', yf(30));
  cr.setAttribute('width', width); cr.setAttribute('height', 140);

  const inner = make('g', g);
  inner.setAttribute('clip-path', 'url(#clip' + idx + ')');

  const bg = make('rect', inner);
  
  
  bg.setAttribute('x', xf(-90)); bg.setAttribute('y', yf(30));
  bg.setAttribute('width', width); bg.setAttribute('height', 140);
  bg.setAttribute('fill', colorFor(0));

  panelFills[idx].forEach(f => {
    const p = make('path', inner);
    
    
    p.setAttribute('d', smooth(f[1], xf, yf, true));
    p.setAttribute('fill', colorFor(f[0]));
  });

  const map = make('path', inner);
  
  
  map.setAttribute('d', coastLines.concat(borderLines).map(l => poly(l, xf, yf)).join(''));
  map.setAttribute('fill', 'none');
  map.setAttribute('stroke', '#666');
  map.setAttribute('stroke-width', '1.8');
  map.setAttribute('stroke-linejoin', 'round');

  equatorDashSpans.forEach(s => {
    const e = make('line', inner);
    
    
    e.setAttribute('x1', xf(s[0])); e.setAttribute('x2', xf(s[1]));
    e.setAttribute('y1', yf(0)); e.setAttribute('y2', yf(0));
    e.setAttribute('stroke', '#555');
    e.setAttribute('stroke-width', '1.5');
    e.setAttribute('stroke-dasharray', '5 4');
  });
  const pm = make('line', inner);
  
  
  pm.setAttribute('x1', xf(0)); pm.setAttribute('x2', xf(0));
  pm.setAttribute('y1', yf(primeMeridianSpan[1])); pm.setAttribute('y2', yf(primeMeridianSpan[0]));
  pm.setAttribute('stroke', '#555');
  pm.setAttribute('stroke-width', '1.5');
  pm.setAttribute('stroke-dasharray', '5 4');

  drawContours(inner, mjoLines[idx], '#000000', 'mjo', xf, yf);
  drawContours(inner, lowLines[idx], '#a020f0', 'low', xf, yf);
  drawContours(inner, erLines[idx], '#ff0000', 'er', xf, yf);
  drawContours(inner, kelvinLines[idx], '#0000ff', 'kelvin', xf, yf, idx === 5 ? '6 2' : null);

  let tickPath = '';
  for(let lon = -90; lon <= 90; lon += 10){
    const len = lon % 60 === 0 ? 7 : 3.5;
    tickPath += 'M' + xf(lon) + ' ' + yf(30) + 'v' + (-len) + 'M' + xf(lon) + ' ' + yf(-10) + 'v' + len;
  }
  for(let lat = -10; lat <= 30; lat += 2){
    const len = lat % 10 === 0 ? 5 : 2.5;
    tickPath += 'M' + xf(-90) + ' ' + yf(lat) + 'h' + (-len) + 'M' + xf(90) + ' ' + yf(lat) + 'h' + len;
  }
  const ticks = make('path', g);
  
  
  ticks.setAttribute('d', tickPath);
  ticks.setAttribute('stroke', '#000');
  ticks.setAttribute('stroke-width', '1.6');
  ticks.setAttribute('fill', 'none');

  const border = make('rect', g);
  
  
  border.setAttribute('x', xf(-90)); border.setAttribute('y', yf(30));
  border.setAttribute('width', width); border.setAttribute('height', 140);
  border.setAttribute('fill', 'none');
  border.setAttribute('stroke', '#000');
  border.setAttribute('stroke-width', '3');

  const title = make('text', g);
  
  
  title.setAttribute('x', titleStart[col][row]);
  title.setAttribute('y', titleBaseline[col][row]);
  title.setAttribute('font-size', '36');
  title.setAttribute('textLength', titleLength[col][row]);
  title.setAttribute('lengthAdjust', 'spacingAndGlyphs');
  title.textContent = periodTitles[idx];

  if(col === 0){
    latTickLabels.forEach(t => {
      const tx = make('text', g);
      
      
      tx.setAttribute('x', 74);
      tx.setAttribute('y', yf(t[0]) + 13);
      tx.setAttribute('font-size', '36');
      tx.setAttribute('text-anchor', 'end');
      if(t[1].length === 3) tx.setAttribute('textLength', 62);
      if(t[1].length === 3) tx.setAttribute('lengthAdjust', 'spacingAndGlyphs');
      tx.textContent = t[1];
    });
  }
  if(row === 3){
    lonTickLabels.forEach(t => {
      const tx = make('text', g);
      
      
      tx.setAttribute('x', xf(t[0]));
      tx.setAttribute('y', 918);
      tx.setAttribute('font-size', '35');
      tx.setAttribute('text-anchor', 'middle');
      tx.textContent = t[1];
    });
  }
}
periodTitles.forEach((_, i) => drawPanel(i));

const obs = make('text', panelsRoot);


obs.setAttribute('x', 587);
obs.setAttribute('y', 38);
obs.setAttribute('font-size', '36');
obs.setAttribute('textLength', 150);
obs.setAttribute('lengthAdjust', 'spacingAndGlyphs');
obs.textContent = 'Observed';

const cfs = make('text', panelsRoot);


cfs.setAttribute('x', 1265);
cfs.setAttribute('y', 39);
cfs.setAttribute('font-size', '36');
cfs.setAttribute('textLength', 213);
cfs.setAttribute('lengthAdjust', 'spacingAndGlyphs');
cfs.textContent = 'CFS Forecast';

/* colorbar */
const cb = document.getElementById('colorbar');
const cbLeft = 229, cbWidth = 604, cbTop = 978, cbHeight = 24;
const boxW = cbWidth / levelColors.length;
levelColors.forEach((c, i) => {
  const r = make('rect', cb);
  
  
  r.setAttribute('x', cbLeft + i * boxW);
  r.setAttribute('y', cbTop);
  r.setAttribute('width', boxW);
  r.setAttribute('height', cbHeight);
  r.setAttribute('fill', c);
  r.setAttribute('stroke', '#000');
  r.setAttribute('stroke-width', '1.2');
});
levels.forEach((v, i) => {
  const t = make('text', cb);
  
  
  t.setAttribute('x', cbLeft + (i + 1) * boxW);
  t.setAttribute('y', 1031);
  t.setAttribute('font-size', '31');
  t.setAttribute('text-anchor', 'middle');
  t.textContent = String(v);
});
</script>
</body>
</html>
